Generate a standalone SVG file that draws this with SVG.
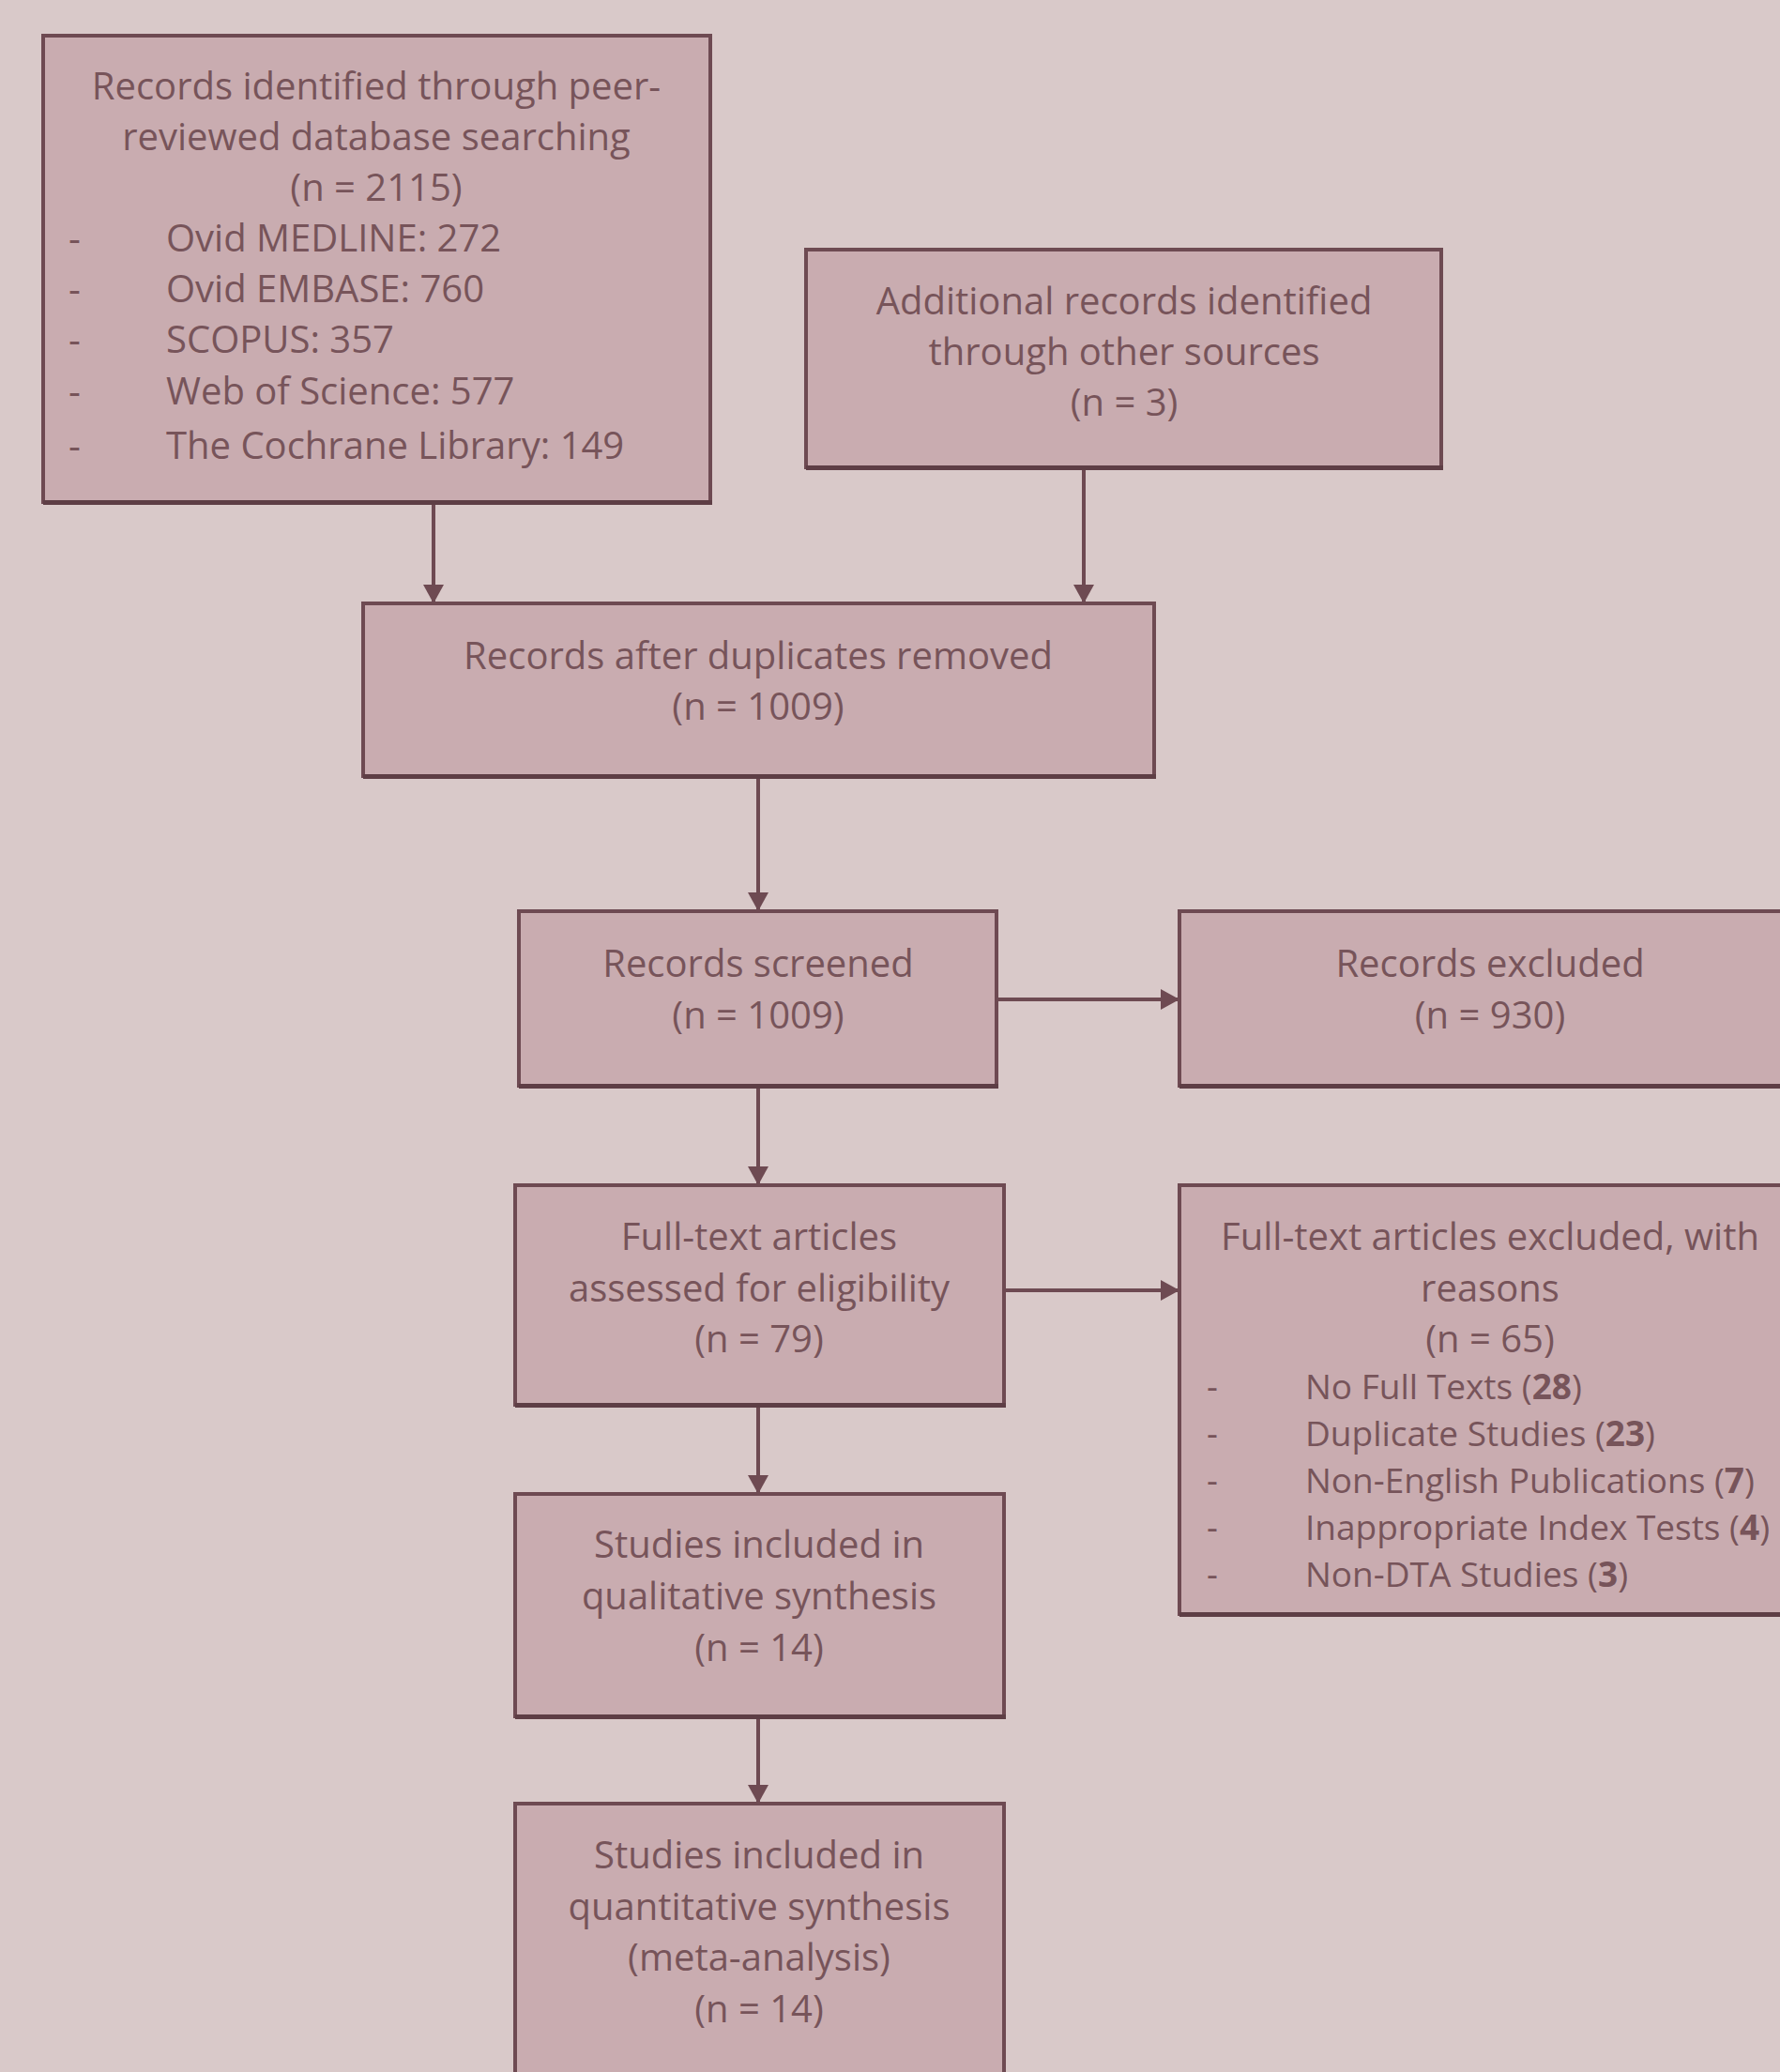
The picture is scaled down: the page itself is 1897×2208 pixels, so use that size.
<svg xmlns="http://www.w3.org/2000/svg" width="1897" height="2208" viewBox="0 0 1897 2208">
<style>
.bg{fill:#d9c9c9}
.box{fill:#c9acb0;stroke:#6e4a52;stroke-width:4}
.sh{fill:#5e3e45}
.t{font-family:"Open Sans","Liberation Sans",sans-serif;font-size:40px;fill:#77545a;text-anchor:middle}
.l{font-family:"Open Sans","Liberation Sans",sans-serif;font-size:40px;fill:#77545a}
.s{font-family:"Open Sans","Liberation Sans",sans-serif;font-size:37px;fill:#77545a}
.b{font-weight:bold}
.c{stroke:#6e4a52;stroke-width:4;fill:none}
</style>
<defs>
<marker id="ah" viewBox="0 0 20 22" refX="20" refY="11" markerWidth="20" markerHeight="22" markerUnits="userSpaceOnUse" orient="auto">
<path d="M0,0 L20,11 L0,22 Z" fill="#6e4a52"/>
</marker>
</defs>
<rect class="bg" x="0" y="0" width="1897" height="2208"/>

<g id="connectors">
<line class="c" x1="462" y1="538" x2="462" y2="643" marker-end="url(#ah)"/>
<line class="c" x1="1155" y1="501" x2="1155" y2="643" marker-end="url(#ah)"/>
<line class="c" x1="808" y1="830" x2="808" y2="971" marker-end="url(#ah)"/>
<line class="c" x1="1063" y1="1065" x2="1257" y2="1065" marker-end="url(#ah)"/>
<line class="c" x1="808" y1="1160" x2="808" y2="1263" marker-end="url(#ah)"/>
<line class="c" x1="1070" y1="1375" x2="1257" y2="1375" marker-end="url(#ah)"/>
<line class="c" x1="808" y1="1499" x2="808" y2="1592" marker-end="url(#ah)"/>
<line class="c" x1="808" y1="1831" x2="808" y2="1922" marker-end="url(#ah)"/>
</g>

<g id="n-identified">
<rect class="box" x="46" y="38" width="711" height="497"/>
<rect class="sh" x="46" y="533" width="713" height="5"/>
<text class="t" x="401" y="106">Records identified through peer-</text>
<text class="t" x="401" y="160">reviewed database searching</text>
<text class="t" x="401" y="214">(n = 2115)</text>
<text class="l" x="73" y="268">-</text><text class="l" x="177" y="268">Ovid MEDLINE: 272</text>
<text class="l" x="73" y="322">-</text><text class="l" x="177" y="322">Ovid EMBASE: 760</text>
<text class="l" x="73" y="376">-</text><text class="l" x="177" y="376">SCOPUS: 357</text>
<text class="l" x="73" y="431">-</text><text class="l" x="177" y="431">Web of Science: 577</text>
<text class="l" x="73" y="489">-</text><text class="l" x="177" y="489">The Cochrane Library: 149</text>
</g>

<g id="n-additional">
<rect class="box" x="859" y="266" width="677" height="232"/>
<rect class="sh" x="859" y="496" width="679" height="5"/>
<text class="t" x="1198" y="335">Additional records identified</text>
<text class="t" x="1198" y="389">through other sources</text>
<text class="t" x="1198" y="443">(n = 3)</text>
</g>

<g id="n-duplicates">
<rect class="box" x="387" y="643" width="843" height="184"/>
<rect class="sh" x="387" y="825" width="845" height="5"/>
<text class="t" x="808" y="713">Records after duplicates removed</text>
<text class="t" x="808" y="767">(n = 1009)</text>
</g>

<g id="n-screened">
<rect class="box" x="553" y="971" width="509" height="186"/>
<rect class="sh" x="553" y="1155" width="511" height="5"/>
<text class="t" x="808" y="1041">Records screened</text>
<text class="t" x="808" y="1096">(n = 1009)</text>
</g>

<g id="n-excluded">
<rect class="box" x="1257" y="971" width="680" height="186"/>
<rect class="sh" x="1257" y="1155" width="680" height="5"/>
<text class="t" x="1588" y="1041">Records excluded</text>
<text class="t" x="1588" y="1096">(n = 930)</text>
</g>

<g id="n-fulltext">
<rect class="box" x="549" y="1263" width="521" height="234"/>
<rect class="sh" x="549" y="1495" width="523" height="5"/>
<text class="t" x="809" y="1332">Full-text articles</text>
<text class="t" x="809" y="1387">assessed for eligibility</text>
<text class="t" x="809" y="1441">(n = 79)</text>
</g>

<g id="n-ftexcluded">
<rect class="box" x="1257" y="1263" width="680" height="457"/>
<rect class="sh" x="1257" y="1718" width="680" height="5"/>
<text class="t" x="1588" y="1332">Full-text articles excluded, with</text>
<text class="t" x="1588" y="1387">reasons</text>
<text class="t" x="1588" y="1441">(n = 65)</text>
<text class="s" x="1286" y="1491">-</text><text class="s" x="1391" y="1491">No Full Texts (<tspan class="b">28</tspan>)</text>
<text class="s" x="1286" y="1541">-</text><text class="s" x="1391" y="1541">Duplicate Studies (<tspan class="b">23</tspan>)</text>
<text class="s" x="1286" y="1591">-</text><text class="s" x="1391" y="1591">Non-English Publications (<tspan class="b">7</tspan>)</text>
<text class="s" x="1286" y="1641">-</text><text class="s" x="1391" y="1641">Inappropriate Index Tests (<tspan class="b">4</tspan>)</text>
<text class="s" x="1286" y="1691">-</text><text class="s" x="1391" y="1691">Non-DTA Studies (<tspan class="b">3</tspan>)</text>
</g>

<g id="n-qualitative">
<rect class="box" x="549" y="1592" width="521" height="237"/>
<rect class="sh" x="549" y="1827" width="523" height="5"/>
<text class="t" x="809" y="1660">Studies included in</text>
<text class="t" x="809" y="1715">qualitative synthesis</text>
<text class="t" x="809" y="1770">(n = 14)</text>
</g>

<g id="n-quantitative">
<rect class="box" x="549" y="1922" width="521" height="320"/>
<text class="t" x="809" y="1991">Studies included in</text>
<text class="t" x="809" y="2046">quantitative synthesis</text>
<text class="t" x="809" y="2100">(meta-analysis)</text>
<text class="t" x="809" y="2155">(n = 14)</text>
</g>
</svg>
